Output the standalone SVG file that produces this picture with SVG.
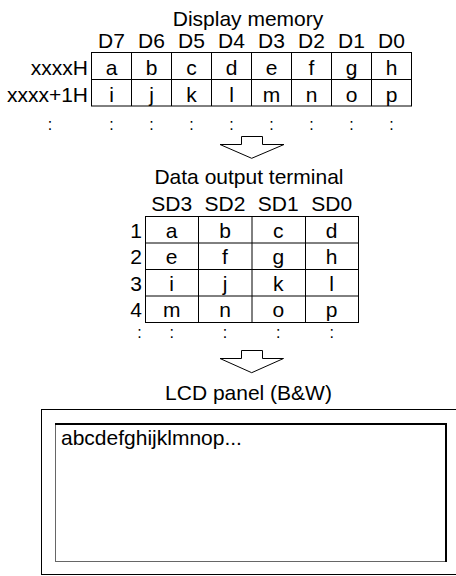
<svg xmlns="http://www.w3.org/2000/svg" width="456" height="576" viewBox="0 0 456 576">
<style>
text{font-family:"Liberation Sans",Arial,sans-serif;font-size:21px;fill:#000}
.c{text-anchor:middle}
.r{text-anchor:end}
text.d{font-size:16px}
.ln{fill:none;stroke:#000;stroke-width:1}
.arr{fill:#fff;stroke:#000;stroke-width:1}
</style>
<rect width="456" height="576" fill="#fff"/>
<g id="display-memory">
<text class="c" x="248" y="26">Display memory</text>
<g class="c">
<text x="111.5" y="47.5">D7</text><text x="151.5" y="47.5">D6</text><text x="191.5" y="47.5">D5</text><text x="231.5" y="47.5">D4</text>
<text x="271.5" y="47.5">D3</text><text x="311.5" y="47.5">D2</text><text x="351.5" y="47.5">D1</text><text x="391.5" y="47.5">D0</text>
</g>
<text class="r" x="88" y="75">xxxxH</text>
<text class="r" x="88" y="102">xxxx+1H</text>
<rect class="ln" x="91.5" y="52.5" width="320" height="53.5"/>
<path class="ln" d="M91.5 79.5H411.5M131.5 52.5V106M171.5 52.5V106M211.5 52.5V106M251.5 52.5V106M291.5 52.5V106M331.5 52.5V106M371.5 52.5V106"/>
<g class="c">
<text x="111.5" y="75">a</text><text x="151.5" y="75">b</text><text x="191.5" y="75">c</text><text x="231.5" y="75">d</text>
<text x="271.5" y="75">e</text><text x="311.5" y="75">f</text><text x="351.5" y="75">g</text><text x="391.5" y="75">h</text>
<text x="111.5" y="102">i</text><text x="151.5" y="102">j</text><text x="191.5" y="102">k</text><text x="231.5" y="102">l</text>
<text x="271.5" y="102">m</text><text x="311.5" y="102">n</text><text x="351.5" y="102">o</text><text x="391.5" y="102">p</text>
<text class="d" x="50" y="129.5">:</text>
<text class="d" x="111.5" y="129.5">:</text><text class="d" x="151.5" y="129.5">:</text><text class="d" x="191.5" y="129.5">:</text><text class="d" x="231.5" y="129.5">:</text>
<text class="d" x="271.5" y="129.5">:</text><text class="d" x="311.5" y="129.5">:</text><text class="d" x="351.5" y="129.5">:</text><text class="d" x="391.5" y="129.5">:</text>
</g>
</g>
<g id="data-output-terminal">
<text class="c" x="249" y="184">Data output terminal</text>
<g class="c">
<text x="171.7" y="211">SD3</text><text x="225" y="211">SD2</text><text x="278.3" y="211">SD1</text><text x="331.7" y="211">SD0</text>
</g>
<g class="r">
<text x="142" y="237.5">1</text><text x="142" y="264">2</text><text x="142" y="290.5">3</text><text x="142" y="317">4</text>
</g>
<rect class="ln" x="145.5" y="216.5" width="213" height="106"/>
<path class="ln" d="M145.5 243H358.5M145.5 269.5H358.5M145.5 296H358.5M198.5 216.5V322.5M252 216.5V322.5M305.5 216.5V322.5"/>
<g class="c">
<text x="171.7" y="237.5">a</text><text x="225" y="237.5">b</text><text x="278.3" y="237.5">c</text><text x="331.7" y="237.5">d</text>
<text x="171.7" y="264">e</text><text x="225" y="264">f</text><text x="278.3" y="264">g</text><text x="331.7" y="264">h</text>
<text x="171.7" y="290.5">i</text><text x="225" y="290.5">j</text><text x="278.3" y="290.5">k</text><text x="331.7" y="290.5">l</text>
<text x="171.7" y="317">m</text><text x="225" y="317">n</text><text x="278.3" y="317">o</text><text x="331.7" y="317">p</text>
<text class="d" x="139.5" y="338">:</text>
<text class="d" x="171.7" y="338">:</text><text class="d" x="225" y="338">:</text><text class="d" x="278.3" y="338">:</text><text class="d" x="331.7" y="338">:</text>
</g>
</g>
<g id="lcd-panel">
<text class="c" x="248.5" y="400">LCD panel (B&amp;W)</text>
<rect class="ln" x="41.5" y="409.5" width="430" height="165"/>
<rect fill="#fff" stroke="#666" stroke-width="1" x="55.5" y="423.5" width="391" height="138"/>
<path fill="none" stroke="#000" stroke-width="2" d="M55 424H446V562"/>
<text x="61" y="445">abcdefghijklmnop...</text>
</g>
<g id="connectors">
<path class="arr" d="M241.5 136.5H262.5V144.5H284L251.7 158.3L220 144.5H241.5Z"/>
<path class="arr" d="M241.5 350.5H262.5V358.5H283.5L251.7 372.7L220 358.5H241.5Z"/>
</g>
</svg>
